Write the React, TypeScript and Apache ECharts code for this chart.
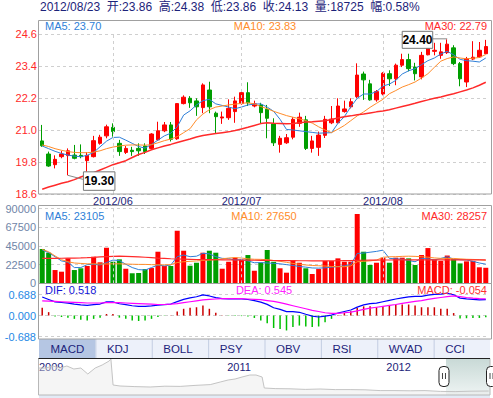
import React, { useEffect, useRef } from "react";
import * as echarts from "echarts";

// ---------- data ----------
const dates: string[] = [
  "2012/05/17","2012/05/18","2012/05/21","2012/05/22","2012/05/23","2012/05/24","2012/05/25","2012/05/28","2012/05/29","2012/05/30","2012/05/31",
  "2012/06/01","2012/06/04","2012/06/05","2012/06/06","2012/06/07","2012/06/08","2012/06/11","2012/06/12","2012/06/13","2012/06/14","2012/06/15","2012/06/18","2012/06/19","2012/06/20","2012/06/21","2012/06/25","2012/06/26","2012/06/27","2012/06/28","2012/06/29",
  "2012/07/02","2012/07/03","2012/07/04","2012/07/05","2012/07/06","2012/07/09","2012/07/10","2012/07/11","2012/07/12","2012/07/13","2012/07/16","2012/07/17","2012/07/18","2012/07/19","2012/07/20","2012/07/23","2012/07/24","2012/07/25","2012/07/26","2012/07/27","2012/07/30","2012/07/31",
  "2012/08/01","2012/08/02","2012/08/03","2012/08/06","2012/08/07","2012/08/08","2012/08/09","2012/08/10","2012/08/13","2012/08/14","2012/08/15","2012/08/16","2012/08/17","2012/08/20","2012/08/21","2012/08/22","2012/08/23",
];
const opens = [20.59,20.10,19.70,20.00,20.04,20.06,20.05,19.85,20.00,20.50, 20.78,21.10,20.50,20.16,20.24,20.31,20.40,20.31,20.63,20.97, 21.19,20.67,21.99,22.19,22.09,21.84,22.50,21.63,21.45,21.46, 21.69,21.99,22.40,21.90,21.94,21.78,21.23,20.46,20.52,20.73, 21.25,21.38,20.31,20.35,20.80,21.27,21.27,21.69,21.87,22.25, 23.10,22.73,22.13,22.35,23.11,22.92,23.43,23.64,23.36,22.99, 23.82,23.95,23.80,23.90,24.08,23.49,22.80,23.66,23.74,23.86];
const closes = [20.41,19.65,19.90,20.10,20.22,19.94,20.00,20.05,20.60,20.73, 21.12,20.94,20.19,20.31,20.19,20.22,20.19,20.85,20.97,21.19, 20.65,21.99,22.23,22.02,21.87,22.69,21.87,21.50,21.49,21.81, 22.09,22.40,22.02,21.98,21.65,21.44,20.52,20.69,20.71,21.40, 21.48,20.31,20.59,20.81,21.40,21.41,21.90,21.79,22.06,23.06, 22.88,22.13,22.44,23.13,22.92,23.43,23.64,23.30,23.11,23.80, 24.14,23.99,23.93,24.22,23.49,22.92,23.67,23.73,23.99,24.13];
const lows = [20.37,19.62,19.56,19.94,19.30,19.90,19.94,19.44,19.97,20.45, 20.69,20.75,20.03,20.10,20.03,20.03,20.10,20.28,20.60,20.92, 20.57,20.63,21.96,21.83,21.53,21.63,21.63,20.88,21.23,21.38, 21.27,21.95,21.90,21.85,21.25,20.69,20.40,20.15,20.48,20.65, 21.12,20.25,20.15,20.03,20.70,21.22,21.25,21.65,21.81,22.19, 22.13,22.10,22.06,22.30,22.65,22.68,23.36,23.20,22.86,22.90, 23.80,23.80,23.67,23.85,23.43,22.64,22.61,23.62,23.70,23.86];
const highs = [21.19,20.19,20.05,20.22,20.31,20.44,20.46,20.17,20.78,20.82, 21.20,21.25,20.63,20.40,20.37,20.50,20.50,20.88,21.31,21.30, 21.30,22.00,22.30,22.27,22.19,22.75,22.81,21.69,21.69,22.15, 22.25,22.47,22.79,22.10,22.02,21.94,21.44,20.78,20.85,21.48, 21.65,21.53,20.78,20.94,21.53,21.90,22.19,22.10,22.19,23.50, 23.19,22.88,22.50,23.17,23.24,23.49,23.86,23.86,23.52,23.93, 24.20,24.27,24.27,24.40,24.18,23.55,23.74,24.33,24.30,24.38];
const ma5 = [20.40,20.30,20.20,20.12,20.06,20.02,20.00,20.05,20.16,20.37, 20.58,20.72,20.73,20.62,20.50,20.38,20.32,20.46,20.62,20.78, 20.88,21.12,21.56,21.72,21.94,22.10,22.15,21.98,21.92,21.86, 21.80,21.86,21.94,21.97,21.98,21.86,21.70,21.40,21.02,21.00, 20.97,20.94,20.91,20.88,20.89,20.90,21.25,21.50,21.87,22.19, 22.35,22.35,22.44,22.65,22.72,22.86,23.10,23.22,23.30,23.45, 23.60,23.70,23.85,23.95,23.82,23.65,23.60,23.58,23.55,23.70];
const ma10 = [20.44,20.38,20.30,20.24,20.19,20.16,20.15,20.15,20.17,20.22, 20.30,20.36,20.40,20.43,20.44,20.44,20.43,20.45,20.52,20.60, 20.66,20.75,20.90,21.05,21.38,21.60,21.76,21.86,21.90,21.94, 21.97,22.00,22.02,21.98,21.88,21.80,21.70,21.62,21.54,21.48, 21.42,21.35,21.26,21.12,21.00,20.90,21.03,21.17,21.35,21.53, 21.68,21.85,22.00,22.15,22.36,22.48,22.61,22.70,22.80,22.95, 23.11,23.35,23.58,23.68,23.74,23.70,23.67,23.69,23.72,23.83];
const ma30 = [18.78,18.86,18.93,19.00,19.06,19.14,19.24,19.32,19.40,19.50, 19.60,19.70,19.77,19.85,19.97,20.08,20.16,20.26,20.33,20.40, 20.46,20.53,20.60,20.66,20.74,20.79,20.83,20.87,20.90,20.93, 20.98,21.04,21.10,21.17,21.24,21.27,21.25,21.24,21.23,21.24, 21.27,21.30,21.31,21.33,21.35,21.39,21.45,21.50,21.53,21.57, 21.60,21.64,21.68,21.71,21.76,21.82,21.88,21.94,22.00,22.07, 22.13,22.19,22.24,22.30,22.36,22.43,22.50,22.58,22.68,22.79];
const volumes = [41400,36900,16000,14000,30100,16000,18100,20900,32100,25300, 42900,26000,28900,17600,12100,12400,17200,18400,38100,20900, 20900,63400,39300,21200,24800,36900,39300,36900,17600,26000, 30900,28100,34100,15200,25000,40200,26000,18100,12800,28100, 24800,18100,11200,17200,26900,26900,30100,26000,26000,83600, 38100,22100,24800,30900,24800,30900,30900,30100,22100,34100, 42500,29000,27000,33500,29000,24000,26500,27000,19300,18725];
const volMa5 = [40200,37000,32000,27000,25500,19000,19000,22500,23000,22100, 25000,28000,27500,23000,19000,16500,16000,19000,22000,21000, 22000,32100,34100,32100,32700,36200,35500,32100,30100,29800, 28100,28700,27000,24800,25000,24500,24100,23500,22500,21500, 20300,19500,18500,18300,18700,19500,20200,21000,22500,36000, 36500,37500,38500,40000,30100,29500,29000,27500,26000,30000, 29500,28200,30000,32000,29200,28500,28100,26500,24500,23105];
const volMa10 = [41000,38000,33000,28500,26000,24500,24000,23500,23500,23300, 23300,23500,23500,23300,23000,22800,22800,22500,22300,22300, 22500,25000,26000,26500,27000,27500,28000,28500,29500,30500, 31000,30500,29500,29000,28900,28500,27500,26500,25300,24000, 23000,22100,21500,21200,20800,20300,20000,20000,21000,26000, 26500,27000,28000,31300,32000,32100,32500,32700,32500,32000, 31500,30600,30100,30000,30000,29500,29000,28800,28500,27650];
const volMa30 = [30100,30100,30100,30200,30300,30400,30600,30900,31300,31800, 32300,32600,32700,32600,32300,31900,31400,30900,30400,30000, 29600,29300,29100,28900,28700,28600,28500,28400,28300,28200, 28100,28000,27900,27800,27700,27600,27500,27400,27300,27300, 27200,27200,27100,27100,27100,27100,27200,27300,27400,27600, 27800,27900,28000,28100,28100,28200,28200,28200,28300,28300, 28300,28300,28300,28300,28300,28300,28300,28300,28300,28257];
const dif = [0.605,0.525,0.445,0.425,0.405,0.375,0.35,0.33,0.355,0.375, 0.445,0.445,0.385,0.355,0.32,0.30,0.30,0.315,0.335,0.355, 0.375,0.455,0.53,0.575,0.615,0.675,0.64,0.585,0.555,0.545, 0.54,0.54,0.525,0.49,0.44,0.365,0.255,0.20,0.125,0.13, 0.105,0.04,-0.02,-0.05,-0.02,0.015,0.08,0.13,0.18,0.275, 0.35,0.39,0.405,0.45,0.495,0.54,0.58,0.61,0.625,0.625, 0.665,0.695,0.70,0.73,0.68,0.57,0.545,0.53,0.515,0.518];
const dea = [0.48,0.47,0.46,0.45,0.44,0.43,0.42,0.41,0.41,0.41, 0.42,0.42,0.42,0.41,0.40,0.39,0.38,0.37,0.36,0.36, 0.37,0.39,0.42,0.45,0.48,0.51,0.53,0.54,0.55,0.55, 0.55,0.55,0.54,0.53,0.52,0.49,0.46,0.42,0.37,0.32, 0.27,0.22,0.17,0.13,0.09,0.07,0.07,0.09,0.11,0.15, 0.20,0.24,0.27,0.30,0.33,0.36,0.40,0.43,0.46,0.49, 0.53,0.56,0.59,0.62,0.64,0.62,0.59,0.57,0.555,0.545];
const macd = [0.25,0.11,-0.03,-0.05,-0.07,-0.11,-0.14,-0.16,-0.11,-0.07, 0.05,0.05,-0.07,-0.11,-0.16,-0.18,-0.16,-0.11,-0.05,-0.01, 0.01,0.13,0.22,0.25,0.27,0.33,0.22,0.09,0.01,-0.01, -0.02,-0.02,-0.03,-0.08,-0.16,-0.25,-0.41,-0.44,-0.49,-0.38, -0.33,-0.36,-0.38,-0.36,-0.22,-0.11,0.02,0.08,0.14,0.25, 0.30,0.30,0.27,0.30,0.33,0.36,0.36,0.36,0.33,0.27, 0.27,0.27,0.22,0.22,0.08,-0.10,-0.09,-0.08,-0.08,-0.054];
const navDates = ["2009-10-26","2009-11-11","2009-11-27","2009-12-13","2009-12-29","2010-01-14","2010-01-30","2010-02-15","2010-03-04","2010-03-20","2010-04-05","2010-04-09","2010-04-14","2010-04-30","2010-06-03","2010-07-08","2010-08-11","2010-09-15","2010-10-19","2010-11-23","2010-12-16","2011-01-03","2011-01-19","2011-02-04","2011-02-22","2011-03-08","2011-03-22","2011-03-27","2011-04-21","2011-05-25","2011-06-29","2011-08-02","2011-09-06","2011-10-10","2011-11-13","2011-12-18","2012-01-21","2012-02-25","2012-03-30","2012-05-04","2012-06-07","2012-07-11","2012-08-23"];
const navValues = [135,135,145,135,145,130,135,105,135,150,170,180,50,45,42,40,44,43,48,52,65,75,80,90,100,100,90,35,32,31,28,30,27,27,26,22,22,21,22,18,17,19,20];
const navStart = "2009-10-26";
const navEnd = "2012-08-26";
const navTickDates = ["2010-01-01", "2011-01-01", "2012-01-01"];
const navLabelDates = ["2009-10-26", "2011-01-01", "2012-01-01"];
const tabs = ["MACD", "KDJ", "BOLL", "PSY", "OBV", "RSI", "WVAD", "CCI"];

// ---------- styles ----------
const FONT = "Liberation Sans, Arial, Helvetica, 'Noto Sans CJK SC', sans-serif";
const RED = "#ff0000";
const GREEN = "#009e00";
const NAVY = "#1c237a";
const C_MA5 = "#2f7fd8";
const C_MA10 = "#ff8c2a";
const C_MA30 = "#ff2a2a";
const GRIDC = "#cfcfcf";
const BORDER = "#a0a0a0";

export default function App() {
  const ref = useRef<HTMLDivElement>(null);
  useEffect(() => {
    const chart = echarts.init(ref.current!, null, { renderer: "svg" });
    const n = dates.length - 1;
    const chg = ((closes[n] / closes[n - 1] - 1) * 100).toFixed(2);
    const titleText =
      `${dates[n]}  开:${opens[n].toFixed(2)}  高:${highs[n].toFixed(2)}  低:${lows[n].toFixed(2)}  收:${closes[n].toFixed(2)}  量:${volumes[n]}  幅:${chg}%`;

    const monthStarts = dates
      .map((d, i) => (i > 0 && d.slice(0, 7) !== dates[i - 1].slice(0, 7) ? i : -1))
      .filter((i) => i >= 0);
    const monthLine = {
      silent: true,
      symbol: ["none", "none"],
      label: { show: false },
      lineStyle: { color: GRIDC, type: [3, 3], width: 1 },
      emphasis: { disabled: true },
      data: monthStarts.map((i) => ({ xAxis: dates[i] })),
    };
    const splitDash = { show: true, lineStyle: { color: GRIDC, type: [3, 3], width: 1 } };
    const up = (i: number) => closes[i] >= opens[i];
    const line = (name: string, data: number[], color: string, x: number, width = 1, extra: any = {}) => ({
      name, type: "line", xAxisIndex: x, yAxisIndex: x, data, symbol: "none", silent: true,
      lineStyle: { color, width }, itemStyle: { color }, ...extra,
    });
    const ts = (s: string) => new Date(s).getTime();

    const option: any = {
      animation: false,
      textStyle: { fontFamily: FONT },
      title: {
        text: titleText, left: 40, top: 1, padding: 0,
        textStyle: { fontSize: 12, fontWeight: "normal", color: NAVY, fontFamily: FONT },
      },
      grid: [
        { left: 39, right: 4, top: 34, height: 160 },
        { left: 39, right: 4, top: 208.7, height: 74.6 },
        { left: 39, right: 4, top: 294.5, height: 42 },
        { left: 39, right: 3, top: 358, height: 37 },
      ],
      xAxis: [
        {
          type: "category", gridIndex: 0, data: dates, boundaryGap: true,
          axisLine: { show: false }, axisTick: { show: false }, splitLine: { show: false },
          axisLabel: {
            interval: (i: number) => monthStarts.includes(i),
            formatter: (v: string) => v.slice(0, 7),
            color: NAVY, fontSize: 11, margin: 1,
          },
        },
        { type: "category", gridIndex: 1, data: dates, show: false },
        { type: "category", gridIndex: 2, data: dates, show: false },
        {
          type: "value", gridIndex: 3, min: ts(navStart), max: ts(navEnd), position: "top",
          axisLine: { show: false }, splitLine: { show: false },
          axisTick: { show: true, inside: true, length: 5, lineStyle: { color: "#555" }, customValues: navTickDates.map(ts) },
          axisLabel: {
            show: true, inside: true, align: "left", margin: 3, color: NAVY, fontSize: 11,
            customValues: navLabelDates.map(ts),
            formatter: (v: number) => String(new Date(v).getFullYear()),
          },
        },
      ],
      yAxis: [
        {
          type: "value", gridIndex: 0, min: 18.6, max: 24.6, interval: 1.2,
          axisLine: { show: false }, axisTick: { show: false }, splitLine: splitDash,
          axisLabel: { color: "#ff2a2a", fontSize: 11, margin: 2, formatter: (v: number) => v.toFixed(1) },
        },
        {
          type: "value", gridIndex: 1, min: 0, max: 90000, interval: 22500,
          axisLine: { show: false }, axisTick: { show: false }, splitLine: splitDash,
          axisLabel: { color: "#7085a8", fontSize: 11, margin: 3, formatter: (v: number) => String(v) },
        },
        {
          type: "value", gridIndex: 2, min: -0.688, max: 0.688, interval: 0.688,
          axisLine: { show: false }, axisTick: { show: false }, splitLine: splitDash,
          axisLabel: { color: "#1e88e5", fontSize: 11, margin: 3, formatter: (v: number) => v.toFixed(3) },
        },
        { type: "value", gridIndex: 3, min: 0, max: 185, show: false },
      ],
      series: [
        {
          name: "K", type: "candlestick", xAxisIndex: 0, yAxisIndex: 0, barWidth: 4, silent: true,
          data: dates.map((_, i) => [opens[i], closes[i], lows[i], highs[i]]),
          itemStyle: { color: RED, color0: GREEN, borderColor: RED, borderColor0: GREEN, borderWidth: 1 },
        },
        line("MA5", ma5, C_MA5, 0, 1),
        line("MA10", ma10, C_MA10, 0, 1),
        line("MA30", ma30, C_MA30, 0, 1.5, { markLine: monthLine }),
        {
          name: "VOL", type: "bar", xAxisIndex: 1, yAxisIndex: 1, barWidth: 5, silent: true,
          data: volumes.map((v, i) => ({ value: v, itemStyle: { color: up(i) ? RED : GREEN } })),
          markLine: monthLine,
        },
        line("VMA5", volMa5, C_MA5, 1, 1),
        line("VMA10", volMa10, C_MA10, 1, 1),
        line("VMA30", volMa30, C_MA30, 1, 1.2),
        {
          name: "MACD", type: "bar", xAxisIndex: 2, yAxisIndex: 2, barWidth: 1.5, silent: true,
          data: macd.map((v) => ({ value: v, itemStyle: { color: v >= 0 ? "#cc0000" : "#00c000" } })),
        },
        line("DIF", dif, "#0000ff", 2, 1.2, { clip: false }),
        line("DEA", dea, "#ff00ff", 2, 1.2, { clip: false }),
        {
          name: "NAV", type: "line", xAxisIndex: 3, yAxisIndex: 3, symbol: "none", silent: true, z: 3,
          data: navDates.map((d, i) => [ts(d), navValues[i]]),
          lineStyle: { color: "#c4c4c4", width: 1 },
          areaStyle: { color: "rgba(230,230,230,0.6)" },
        },
      ],
    };
    chart.setOption(option);

    // ---------- overlay graphics ----------
    const g: any[] = [];
    const txt = (text: string, x: number, y: number, fill: string, align = "left", size = 11, weight = "normal", z = 30) => ({
      type: "text", x, y, z, silent: true,
      style: {
        text, fill, fontSize: size, fontFamily: FONT, fontWeight: weight,
        align, verticalAlign: "middle", textAlign: align, textVerticalAlign: "middle",
      },
    });
    const rect = (x: number, y: number, w: number, h: number, style: any, z = 20, r = 0) => ({
      type: "rect", shape: { x, y, width: w, height: h, r }, style, z, silent: true,
    });
    const seg = (x1: number, y1: number, x2: number, y2: number, stroke: string, z = 20, lineWidth = 1) => ({
      type: "line", shape: { x1, y1, x2, y2 }, style: { stroke, lineWidth }, z, silent: true,
    });

    g.push(rect(38.5, 20.5, 453, 173.5, { fill: "none", stroke: BORDER, lineWidth: 1 }));
    g.push(rect(38.5, 205.5, 453, 78, { fill: "none", stroke: BORDER, lineWidth: 1 }));
    g.push(rect(38.5, 283.5, 453, 55.5, { fill: "none", stroke: BORDER, lineWidth: 1 }));

    g.push(txt(`MA5: ${ma5[n].toFixed(2)}`, 45, 26, C_MA5));
    g.push(txt(`MA10: ${ma10[n].toFixed(2)}`, 265, 26, C_MA10, "center"));
    g.push(txt(`MA30: ${ma30[n].toFixed(2)}`, 487, 26, C_MA30, "right"));
    g.push(txt(`MA5: ${volMa5[n]}`, 45, 216, C_MA5));
    g.push(txt(`MA10: ${volMa10[n]}`, 264, 216, C_MA10, "center"));
    g.push(txt(`MA30: ${volMa30[n]}`, 487, 216, C_MA30, "right"));
    g.push(txt(`DIF: ${dif[n].toFixed(3)}`, 45, 289.5, "#1414d8"));
    g.push(txt(`DEA: ${dea[n].toFixed(3)}`, 264, 289.5, "#ff22ff", "center"));
    g.push(txt(`MACD: ${macd[n].toFixed(3)}`, 487, 289.5, "#ff3030", "right"));

    const tabW = 451 / tabs.length;
    g.push(rect(39, 339, 451, 19, { fill: "#edf1fa" }, 5));
    g.push(rect(39, 339, tabW, 19, { fill: "#b5c6e3" }, 6));
    for (let k = 1; k < tabs.length; k++) g.push(seg(39 + k * tabW + 0.5, 339, 39 + k * tabW + 0.5, 358, "#c3cde2", 7));
    tabs.forEach((t, k) => g.push(txt(t, 39 + k * tabW + 11.5, 348.5, NAVY, "left", 11.5)));

    const xs = chart.convertToPixel({ gridIndex: 3 }, [ts(dates[0].replace(/\//g, "-")), 0])[0];
    const xe = chart.convertToPixel({ gridIndex: 3 }, [ts(navEnd), 0])[0];
    g.push(rect(xs, 358.5, xe - xs, 36.5, {
      fill: { type: "linear", x: 0, y: 0, x2: 0, y2: 1, colorStops: [
        { offset: 0, color: "#c8d9d6" }, { offset: 1, color: "#eef4f3" }] },
    }, 1));
    g.push(rect(38.5, 358.5, 451.5, 36.5, { fill: "none", stroke: "#b8b8b8", lineWidth: 1 }, 20));
    g.push(seg(38.5, 358.5, 490, 358.5, "#222", 21));
    g.push(rect(39, 395, 451, 3, { fill: "#e3ebf6" }, 5));
    const handle = (cx: number) => {
      g.push(rect(cx - 5, 366.5, 10, 20, { fill: "#ffffff", stroke: "#222", lineWidth: 1 }, 40, 4));
      g.push(seg(cx - 1.5, 373, cx - 1.5, 379, "#444", 41));
      g.push(seg(cx + 1.5, 373, cx + 1.5, 379, "#444", 41));
    };
    handle(xs - 2);
    handle(xe + 1.5);

    const minIdx = lows.indexOf(Math.min(...lows));
    const maxIdx = highs.indexOf(Math.max(...highs));
    const pMin = chart.convertToPixel({ gridIndex: 0 }, [minIdx, lows[minIdx]]);
    const pMax = chart.convertToPixel({ gridIndex: 0 }, [maxIdx, highs[maxIdx]]);
    g.push(seg(pMin[0], pMin[1], pMin[0] + 15, pMin[1] + 4, "#888", 100));
    g.push(rect(pMin[0] + 15.5, pMin[1] - 3.5, 31.5, 18.5, { fill: "#fff", stroke: "#777", lineWidth: 1 }, 101));
    g.push(txt(lows[minIdx].toFixed(2), pMin[0] + 31.25, pMin[1] + 6, "#000", "center", 12, "bold", 102));
    g.push(seg(pMax[0] - 14.5, pMax[1] - 0.5, pMax[0], pMax[1] - 0.5, "#888", 100));
    g.push(rect(pMax[0] - 45, pMax[1] - 8, 30.5, 17, { fill: "#fff", stroke: "#777", lineWidth: 1 }, 101));
    g.push(txt(highs[maxIdx].toFixed(2), pMax[0] - 29.75, pMax[1] + 0.5, "#000", "center", 12, "bold", 102));

    chart.setOption({ graphic: g });
    return () => chart.dispose();
  }, []);
  return <div ref={ref} style={{ position: "absolute", left: 0, top: 0, width: 493, height: 398 }} />;
}
